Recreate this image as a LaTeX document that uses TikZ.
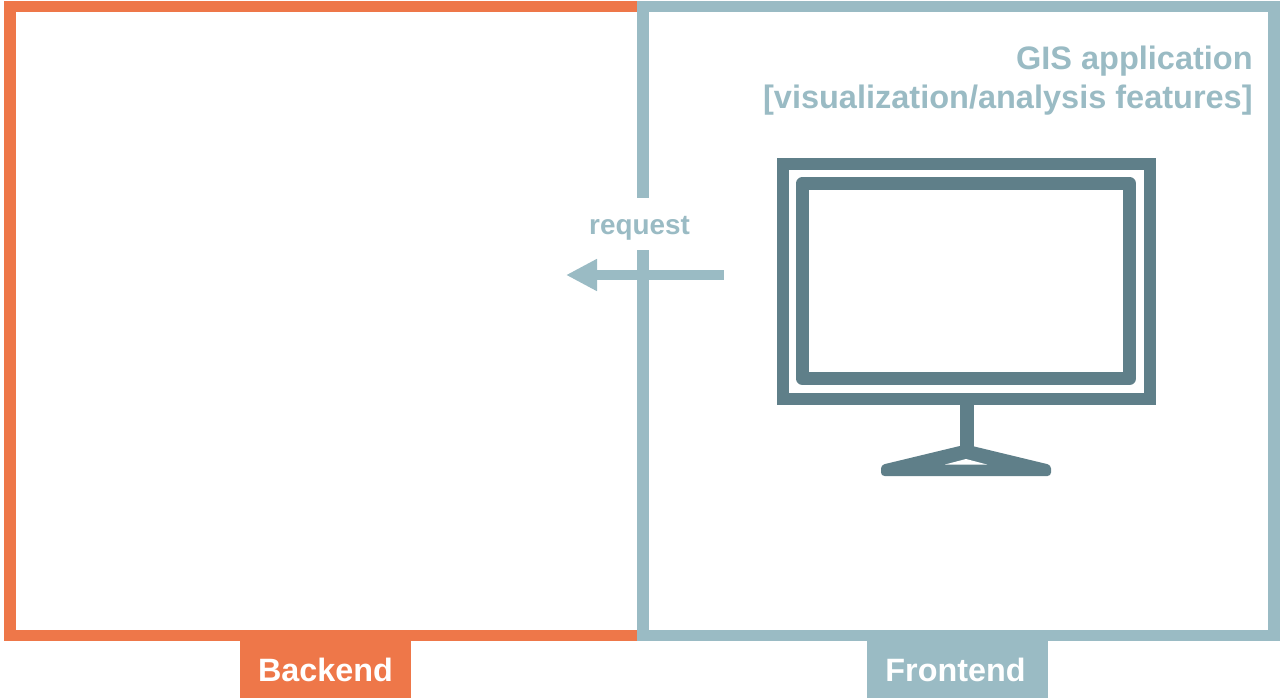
\documentclass[tikz,border=0pt]{standalone}
\usepackage{fontspec}
\setmainfont{Liberation Sans}
\usetikzlibrary{arrows.meta}
\definecolor{backendcol}{HTML}{EE7749}
\definecolor{frontendcol}{HTML}{9ABBC4}
\definecolor{screencol}{HTML}{5F7F89}
\tikzstyle{frame}=[rectangle, draw, inner sep=0, line width=0.23cm]
\tikzstyle{tag}=[rectangle, inner sep=0, text=white, minimum height=1.14cm, font=\fontsize{18.4}{22}\selectfont\bfseries]
\tikzstyle{screen}=[rectangle, draw=screencol, inner sep=0]
\begin{document}
\begin{tikzpicture}[x=0.02cm, y=-0.02cm]
        \useasboundingbox (0,0) rectangle (1281,699);

        % Frames
        \node at (326.5, 321) [frame, draw=backendcol, minimum width=12.66cm, minimum height=12.58cm] (backend) {};
        \node at (958.5, 321) [frame, draw=frontendcol, minimum width=12.62cm, minimum height=12.58cm] (frontend) {};

        % Tags
        \node at (325.5, 669.5) [tag, fill=backendcol, minimum width=3.42cm] (backend_tag) {Backend};
        \node at (957.5, 669.5) [tag, fill=frontendcol, minimum width=3.62cm] (frontend_tag) {Frontend\kern0.08cm};

        % Text
        \node at (1253, 46) [anchor=north east, inner sep=0, align=right, text=frontendcol, font=\fontsize{18.5}{22.1}\selectfont\bfseries] (app_label)
          {GIS application\\{[visualization/analysis features]}};

        % Monitor
        \node at (966.5, 281.5) [screen, line width=0.24cm, minimum width=7.34cm, minimum height=4.7cm] (monitor) {};
        \node at (966, 281) [screen, line join=round, line width=0.25cm, minimum width=6.55cm, minimum height=3.91cm] (panel) {};
        \coordinate (foot) at (966.5, 452);
        \draw [draw=screencol, line width=0.28cm] (monitor.south) to (foot);
        \fill [screencol, rounded corners=0.07cm] (881, 476) -- (881, 465) -- (966, 444.5) -- (1051, 465) -- (1051, 476) -- cycle;
        \fill [white] (945, 464.5) -- (966, 459) -- (987, 464.5) -- cycle;

        % Request
        \coordinate (request_start) at (723.5, 275);
        \coordinate (request_end) at (566, 275);
        \node at (639.5, 224) [fill=white, inner sep=0, minimum width=2.2cm, minimum height=1.04cm, text height=0.48cm, text depth=0.04cm, text=frontendcol, font=\fontsize{15.85}{19}\selectfont\bfseries] (request) {request};
        \draw [-{Triangle[length=0.62cm, width=0.6cm]}, draw=frontendcol, line width=0.2cm] (request_start) to (request_end);
      \end{tikzpicture}
\end{document}
